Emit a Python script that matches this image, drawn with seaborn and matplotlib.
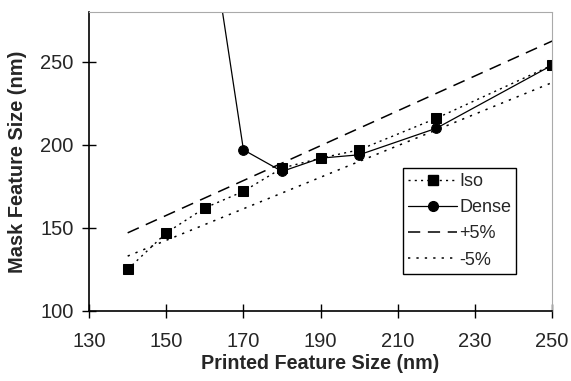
import matplotlib
matplotlib.use("Agg")
import matplotlib.pyplot as plt
import seaborn as sns
import pandas as pd
from matplotlib.lines import Line2D

iso_x = [140, 150, 160, 170, 180, 190, 200, 220, 250]
iso_y = [125, 147, 162, 172, 186, 192, 197, 216, 248]
dense_x = [160, 170, 180, 190, 200, 220, 250]
dense_y = [350, 197, 184, 192, 194, 210, 248]
band_x = [140, 250]
plus5_y = [147, 262.5]
minus5_y = [133, 237.5]

x_ticks = [130, 150, 170, 190, 210, 230, 250]
y_ticks = [100, 150, 200, 250]

sns.set_style("white")
plt.rcParams['font.family'] = ['Liberation Sans', 'DejaVu Sans']

fig = plt.figure(figsize=(5.71, 3.81), dpi=100)
ax = fig.add_axes([0.156, 0.184, 0.811, 0.7845])

iso = pd.DataFrame({"x": iso_x, "y": iso_y})
dense = pd.DataFrame({"x": dense_x, "y": dense_y})
p5 = pd.DataFrame({"x": band_x, "y": plus5_y})
m5 = pd.DataFrame({"x": band_x, "y": minus5_y})

sns.lineplot(data=p5, x="x", y="y", ax=ax, color="black", lw=1.1,
             linestyle=(0, (8, 5)))
sns.lineplot(data=m5, x="x", y="y", ax=ax, color="black", lw=1.1,
             linestyle=(0, (1.5, 4)))
sns.lineplot(data=iso, x="x", y="y", ax=ax, color="black", lw=1.0,
             linestyle=(0, (1.5, 3)), marker="s", markersize=7,
             markeredgecolor="black")
sns.lineplot(data=dense, x="x", y="y", ax=ax, color="black", lw=0.9,
             linestyle="-", marker="o", markersize=7, markeredgecolor="black")

ax.set_xlim(130, 250)
ax.set_ylim(100, 280)
ax.set_xticks(x_ticks)
ax.set_yticks(y_ticks)
ax.tick_params(axis="both", which="major", bottom=True, left=True,
               direction="inout", length=10, width=1,
               labelsize=14.5, color="black", pad=6)
ax.tick_params(axis="x", pad=10)
for s in ["left", "bottom"]:
    ax.spines[s].set_color("black")
    ax.spines[s].set_linewidth(1.2)
for s in ["top", "right"]:
    ax.spines[s].set_color("#aaaaaa")
    ax.spines[s].set_linewidth(0.8)
    ax.spines[s].set_linestyle((0, (1, 1)))

ax.set_xlabel("Printed Feature Size (nm)", fontsize=14.2, fontweight="bold", labelpad=2)
ax.set_ylabel("Mask Feature Size (nm)", fontsize=14.4, fontweight="bold", labelpad=10)

handles = [
    Line2D([], [], color="black", lw=1.0, linestyle=(0, (1.5, 3)), marker="s", markersize=7),
    Line2D([], [], color="black", lw=0.9, linestyle="-", marker="o", markersize=7),
    Line2D([], [], color="black", lw=1.1, linestyle=(0, (8, 5))),
    Line2D([], [], color="black", lw=1.1, linestyle=(0, (1.5, 4))),
]
leg = ax.legend(handles, ["Iso", "Dense", "+5%", "-5%"], loc="upper left",
                bbox_to_anchor=(0.678, 0.478), fontsize=13, frameon=True,
                fancybox=False, edgecolor="black", framealpha=1,
                borderpad=0.3, handlelength=2.7, handletextpad=0.1,
                labelspacing=0.5, borderaxespad=0)
leg.get_frame().set_linewidth(1.0)

fig.savefig("out.png", dpi=100)
